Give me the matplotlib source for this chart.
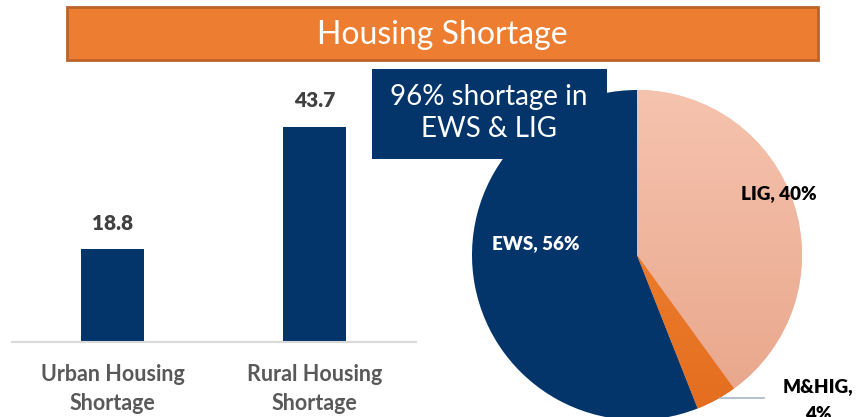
import matplotlib
matplotlib.use("Agg")
import matplotlib.pyplot as plt
import numpy as np
from matplotlib.patches import Rectangle
from matplotlib.colors import LinearSegmentedColormap

plt.rcParams['font.family'] = ['Lato', 'DejaVu Sans']

# ---- data ----
bar_categories = ["Urban Housing\nShortage", "Rural Housing\nShortage"]
bar_values = [18.8, 43.7]
pie_labels = ["LIG", "M&HIG", "EWS"]
pie_values = [40, 4, 56]
title_text = "Housing Shortage"
callout_text = "96% shortage in\nEWS & LIG"

W, H = 856, 417
fig = plt.figure(figsize=(W / 100, H / 100), dpi=100)
fig.patch.set_facecolor("white")

def fx(px):
    return px / W

def fy(py):
    return 1 - py / H

NAVY = "#03356A"

# ---- bar chart ----
axb = fig.add_axes([fx(11.5), fy(342), fx(404), 246.5 / H])
x = np.arange(len(bar_values))
axb.bar(x, bar_values, width=0.31, color=NAVY)
axb.set_xlim(-0.5, 1.5)
axb.set_ylim(0, 50)
for s in ["top", "right", "left"]:
    axb.spines[s].set_visible(False)
axb.spines["bottom"].set_color("#D9D9D9")
axb.spines["bottom"].set_linewidth(1.5)
axb.set_yticks([])
axb.set_xticks(x)
axb.set_xticklabels(bar_categories, fontsize=15.5, fontweight="bold", color="#595959", linespacing=1.5)
axb.tick_params(axis="x", length=0, pad=15.5)
for xi, v in zip(x, bar_values):
    axb.annotate(f"{v}", (xi, v), xytext=(0, 12), textcoords="offset points",
                 ha="center", va="bottom", fontsize=15, fontweight="heavy", color="#404040")

# ---- pie chart ----
R = 165
axp = fig.add_axes([fx(637 - R), fy(255 + R), fx(2 * R), 2 * R / H])
axp.set_xlim(-1, 1)
axp.set_ylim(-1, 1)
axp.set_aspect("equal")
axp.axis("off")
wedges, _ = axp.pie(pie_values, startangle=90, counterclock=False, radius=1,
                    colors=["#F3B9A2", "#EE7A2C", NAVY],
                    wedgeprops=dict(linewidth=0))
grads = {0: ("#F6C3AE", "#E8A58A"), 1: ("#F48A3C", "#E46D1E")}
for i, (c_top, c_bot) in grads.items():
    cmap = LinearSegmentedColormap.from_list("g%d" % i, [c_bot, c_top])
    grad = np.linspace(0, 1, 256).reshape(-1, 1)
    im = axp.imshow(grad, cmap=cmap, extent=[-1, 1, -1, 1], origin="lower",
                    aspect="auto", zorder=wedges[i].get_zorder() + 0.1)
    im.set_clip_path(wedges[i])
axp.set_xlim(-1, 1)
axp.set_ylim(-1, 1)

axp.text((779 - 637) / R, (255 - 194) / R, f"{pie_labels[0]}, {pie_values[0]}%",
         ha="center", va="center", fontsize=13.5, fontweight="heavy", color="black", zorder=5)
axp.text((536 - 637) / R, (255 - 244) / R, f"{pie_labels[2]}, {pie_values[2]}%",
         ha="center", va="center", fontsize=13.5, fontweight="heavy", color="white", zorder=5)
axp.text((818 - 637) / R, (255 - 378) / R, f"{pie_labels[1]},\n{pie_values[1]}%",
         ha="center", va="top", fontsize=13.5, fontweight="heavy", color="black",
         linespacing=1.8, clip_on=False, zorder=5)
axp.plot([(720 - 637) / R, (764 - 637) / R], [(255 - 398) / R] * 2,
         color="#A6B6C8", lw=1.2, clip_on=False, zorder=5)

# ---- title bar ----
fig.patches.append(Rectangle((fx(67), fy(60)), fx(818 - 67), (60 - 7) / H,
                             transform=fig.transFigure, facecolor="#ED7D31",
                             edgecolor="#BE6328", linewidth=2, zorder=1))
fig.text(fx(442), fy(35), title_text, ha="center", va="center", fontsize=23,
         color="white", fontweight="normal", zorder=3)

# ---- callout box ----
fig.patches.append(Rectangle((fx(372), fy(159)), fx(607 - 372), (159 - 69) / H,
                             transform=fig.transFigure, facecolor=NAVY,
                             edgecolor="none", zorder=4))
fig.text(fx(489), fy(113), callout_text, ha="center", va="center", fontsize=20,
         color="white", linespacing=1.3, zorder=5)

fig.savefig("out.png", dpi=100)
